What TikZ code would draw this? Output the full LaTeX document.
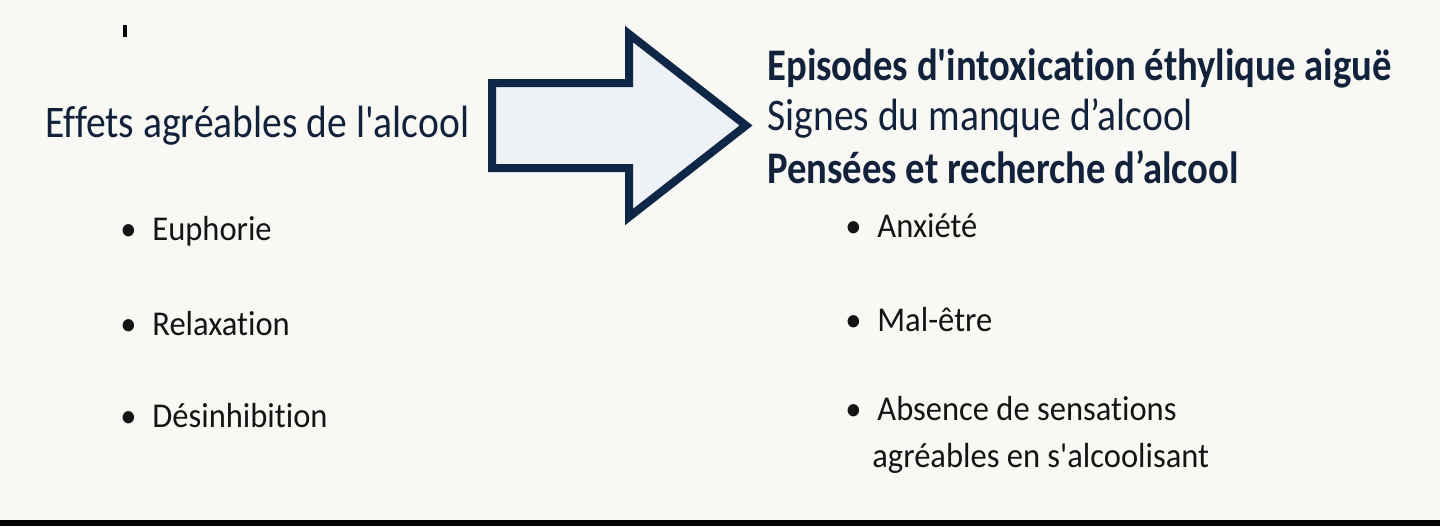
\documentclass[tikz,border=0pt]{standalone}
\usepackage{fontspec}
\setmainfont{Carlito}
\newfontfamily\titrefont[FakeStretch=0.875, Ligatures={NoCommon}]{Carlito}
\newfontfamily\grasfont[FakeStretch=0.855, Ligatures={NoCommon}]{Carlito}
\newfontfamily\itemfont[FakeStretch=0.935, Ligatures={NoCommon}]{Carlito}
\definecolor{mfond}{HTML}{F8F8F4}
\definecolor{mbleu}{HTML}{0E2747}
\definecolor{mpale}{HTML}{EEF1F5}
\definecolor{mnavy}{HTML}{13223B}
\definecolor{mnoir}{HTML}{141414}
\tikzset{fleche/.style = {draw=mbleu, fill=mpale, line width=4pt, line join=miter},
         titre/.style = {anchor=base west, inner sep=0pt, text=mnavy,
                         font=\titrefont\fontsize{22.6}{27}\selectfont},
         titregras/.style = {titre, font=\grasfont\bfseries\fontsize{22.6}{27}\selectfont},
         item/.style = {anchor=base west, inner sep=0pt, text=mnoir,
                        font=\itemfont\fontsize{17.4}{21}\selectfont},
         puce/.style = {item, execute at begin node={\makebox[16pt][l]{\textbullet}}}}

\begin{document}
\begin{tikzpicture}[x=0.5pt, y=-0.5pt]
    \fill [mfond] (0, 0) rectangle (1440, 526);
    \fill [black] (0, 520) rectangle (1440, 526);
    \fill [black] (123, 25) rectangle (127, 37);

    \draw [fleche] (492, 83) -- (629, 83) -- (629, 34) -- (746, 125.5) -- (629, 217) -- (629, 168) -- (492, 168) -- cycle;

    \node [titre] (agreable) at (45, 137) {Effets agréables de l'alcool};
    \node [titregras] (episodes) at (767, 80) {Episodes d'intoxication éthylique aiguë};
    \node [titre] (manque) at (767, 130) {Signes du manque d’alcool};
    \node [titregras] (pensees) at (767, 183) {Pensées et recherche d’alcool};

    \foreach \y/\mot [count=\i] in {240/Euphorie, 335/Relaxation, 427/Désinhibition} {
      \node [puce] (effet\i) at (120, \y) {\mot};
    }
    \foreach \y/\mot [count=\i] in {237/Anxiété, 331/Mal-être, 420/Absence de sensations} {
      \node [puce] (signe\i) at (845, \y) {\mot};
    }
    \node [item] (signe4) at (872, 467) {agréables en s'alcoolisant};
  \end{tikzpicture}
\end{document}
